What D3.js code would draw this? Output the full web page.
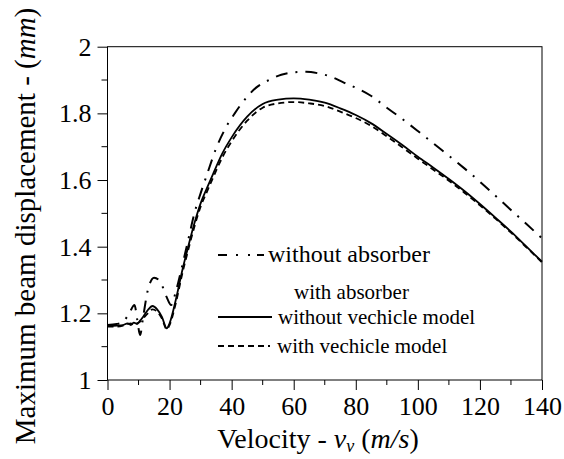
<!DOCTYPE html>
<html><head><meta charset="utf-8">
<script src="https://cdn.jsdelivr.net/npm/d3@7"></script>
<style>body{margin:0;background:#fff}svg{display:block}</style>
</head><body><div id="chart"></div>
<script>
const velNoAbs = [0,3,5,7,8.7,9.6,10.5,11.5,13,15,17,19,20.5,22,24,26,28,30,32,35,38,41,45,48,52,56,60,64,68,72,76,80,85,90,95,100,105,110,115,120,125,130,135,140];
const dispNoAbs = [1.165,1.168,1.175,1.2,1.225,1.18,1.135,1.19,1.27,1.307,1.295,1.25,1.225,1.265,1.34,1.42,1.5,1.56,1.615,1.695,1.755,1.8,1.85,1.878,1.9,1.916,1.923,1.925,1.92,1.91,1.893,1.877,1.852,1.817,1.783,1.747,1.71,1.673,1.635,1.595,1.553,1.51,1.468,1.425];
const velWith = [0,3,5,6.5,7.5,8.5,9.5,10.5,11.5,13,14.5,16,17.5,19.1,20,22,24,26,28,30,32,34,37,40,45,50,55,60,65,70,75,80,85,90,95,100,105,110,115,120,125,130,135,140];
const dispNoVehicle = [1.162,1.163,1.165,1.17,1.165,1.172,1.168,1.178,1.19,1.21,1.222,1.212,1.19,1.155,1.17,1.24,1.325,1.4,1.47,1.53,1.575,1.618,1.68,1.728,1.79,1.828,1.841,1.845,1.841,1.832,1.815,1.795,1.77,1.738,1.705,1.67,1.637,1.603,1.567,1.528,1.487,1.445,1.4,1.355];
const dispVehicle = [1.16,1.16,1.163,1.168,1.17,1.165,1.17,1.175,1.185,1.2,1.212,1.205,1.185,1.152,1.165,1.23,1.315,1.39,1.46,1.52,1.564,1.607,1.668,1.716,1.778,1.817,1.83,1.834,1.83,1.822,1.805,1.786,1.762,1.731,1.698,1.664,1.631,1.598,1.562,1.524,1.484,1.442,1.398,1.353];
const xTicks = [0,20,40,60,80,100,120,140];
const yTicks = [1,1.2,1.4,1.6,1.8,2];
const legendLabels = ["without absorber","with absorber","without vechicle model","with vechicle model"];

const W = 564, H = 459;
const m = {left:107.5, right:22, top:46.7, bottom:79};
const svg = d3.select("#chart").append("svg").attr("width",W).attr("height",H);
const x = d3.scaleLinear().domain([0,140]).range([m.left, W-m.right]);
const y = d3.scaleLinear().domain([1,2]).range([H-m.bottom, m.top]);

const g = svg.append("g");
g.selectAll(".xmin").data(d3.range(10,140,20)).join("line")
  .attr("x1",d=>x(d)).attr("x2",d=>x(d)).attr("y1",y(1)).attr("y2",y(1)+5).attr("stroke","#000");
g.selectAll(".ymin").data([1.1,1.3,1.5,1.7,1.9]).join("line")
  .attr("y1",d=>y(d)).attr("y2",d=>y(d)).attr("x1",x(0)).attr("x2",x(0)-6).attr("stroke","#000");

const xa = svg.append("g").attr("transform",`translate(0,${y(1)})`)
  .call(d3.axisBottom(x).tickValues(xTicks).tickSize(10).tickPadding(7).tickFormat(d3.format("d")));
const ya = svg.append("g").attr("transform",`translate(${x(0)},0)`)
  .call(d3.axisLeft(y).tickValues(yTicks).tickSize(10).tickPadding(6).tickFormat(d=>d===1||d===2?String(d):d.toFixed(1)));
[xa,ya].forEach(a=>{a.attr("font-family",null).attr("font-size",null);a.select(".domain").remove();a.selectAll("line").attr("stroke","#000");a.selectAll("text").style("font-size","26px");});

svg.append("rect").attr("x",x(0)).attr("y",y(2)).attr("width",x(140)-x(0)).attr("height",y(1)-y(2))
  .attr("fill","none").attr("stroke","#000").attr("stroke-width",1);

const line = d3.line().x(d=>x(d[0])).y(d=>y(d[1])).curve(d3.curveMonotoneX);
const cg = svg.append("g");
cg.append("path").datum(d3.zip(velNoAbs,dispNoAbs)).attr("d",line).attr("fill","none").attr("stroke","#000").attr("stroke-width",2).attr("stroke-dasharray","12,8,2,8");
cg.append("path").datum(d3.zip(velWith,dispNoVehicle)).attr("d",line).attr("fill","none").attr("stroke","#000").attr("stroke-width",1.8);
cg.append("path").datum(d3.zip(velWith,dispVehicle)).attr("d",line).attr("fill","none").attr("stroke","#000").attr("stroke-width",1.8).attr("stroke-dasharray","6,4");

const lg = svg.append("g");
lg.append("line").attr("x1",218).attr("x2",264).attr("y1",255).attr("y2",255).attr("stroke","#000").attr("stroke-width",2).attr("stroke-dasharray","9,9,2,10,2,7,9");
lg.append("text").attr("x",268).attr("y",262).style("font-size","24px").text(legendLabels[0]);
lg.append("text").attr("x",294).attr("y",299).style("font-size","21px").text(legendLabels[1]);
lg.append("line").attr("x1",218).attr("x2",272).attr("y1",317).attr("y2",317).attr("stroke","#000").attr("stroke-width",1.8);
lg.append("text").attr("x",278).attr("y",324).style("font-size","21px").text(legendLabels[2]);
lg.append("line").attr("x1",218).attr("x2",270).attr("y1",346).attr("y2",346).attr("stroke","#000").attr("stroke-width",1.8).attr("stroke-dasharray","6,4");
lg.append("text").attr("x",277).attr("y",353).style("font-size","21px").text(legendLabels[3]);

const xt = svg.append("text").attr("x",318).attr("y",448).attr("text-anchor","middle").style("font-size","28px");
xt.append("tspan").text("Velocity - ");
xt.append("tspan").style("font-style","italic").text("v");
xt.append("tspan").style("font-style","italic").style("font-size","18px").attr("dy",4).text("v");
xt.append("tspan").attr("dy",-4).text(" (");
xt.append("tspan").style("font-style","italic").text("m/s");
xt.append("tspan").text(")");

const yt = svg.append("text").attr("transform",`translate(35,226) rotate(-90)`).attr("text-anchor","middle").style("font-size","29px");
yt.append("tspan").text("Maximum beam displacement - (");
yt.append("tspan").style("font-style","italic").text("mm");
yt.append("tspan").text(")");

svg.selectAll("text").style("font-family","'Liberation Serif'").attr("fill","#000");
</script></body></html>
